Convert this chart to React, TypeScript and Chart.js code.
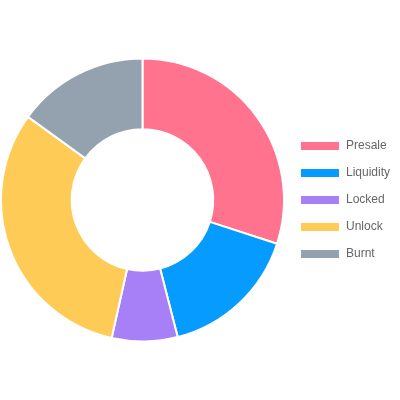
import React, { useEffect, useRef } from "react";
import { Chart, registerables } from "chart.js";

Chart.register(...registerables);

const labels = ["Presale", "Liquidity", "Locked", "Unlock", "Burnt"];
const values = [30, 16, 7.5, 31.5, 15];
const colors = ["#FF738F", "#059BFF", "#A77FF6", "#FFCB57", "#94A1AE"];

export default function App() {
  const ref = useRef<HTMLCanvasElement | null>(null);
  useEffect(() => {
    document.body.style.margin = "0";
    const chart = new Chart(ref.current!, {
      type: "doughnut",
      data: {
        labels,
        datasets: [
          {
            data: values,
            backgroundColor: colors,
            borderColor: "#ffffff",
            borderWidth: 2,
          },
        ],
      },
      options: {
        animation: false,
        responsive: false,
        cutout: "50%",
        plugins: {
          tooltip: { enabled: false },
          legend: {
            position: "right",
            labels: {
              boxWidth: 40,
              boxHeight: 10,
              padding: 15,
              color: "#666",
              font: { size: 12, family: "'Helvetica Neue', Helvetica, Arial, sans-serif" },
            },
          },
        },
      },
    });
    return () => chart.destroy();
  }, []);
  return (
    <div style={{ width: 400, height: 400 }}>
      <canvas ref={ref} width={400} height={400} />
    </div>
  );
}
